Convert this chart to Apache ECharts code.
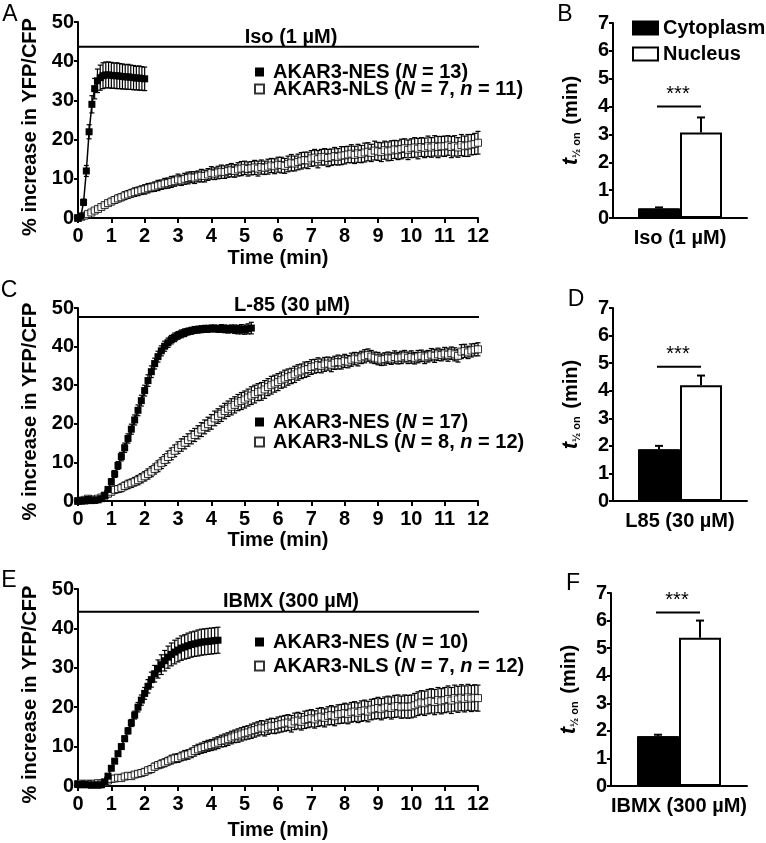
<!DOCTYPE html>
<html><head><meta charset="utf-8">
<script src="https://cdn.jsdelivr.net/npm/echarts@6/dist/echarts.min.js"></script>
<style>html,body{margin:0;padding:0;background:#fff}#c{width:766px;height:843px}</style>
</head><body><div id="c"></div>
<script>
// ---------------- DATA ----------------
const treatments = ['Iso (1 µM)', 'L-85 (30 µM)', 'IBMX (300 µM)'];
const barCategories = ['Iso (1 µM)', 'L85 (30 µM)', 'IBMX (300 µM)'];
const panelLetters = ['A', 'B', 'C', 'D', 'E', 'F'];
const treatmentLevel = [43.7, 47.7, 44.2];
const treatmentEnd = 12.1;
const nesNames = ['AKAR3-NES (N = 13)', 'AKAR3-NES (N = 17)', 'AKAR3-NES (N = 10)'];
const nlsNames = ['AKAR3-NLS (N = 7, n = 11)', 'AKAR3-NLS (N = 8, n = 12)', 'AKAR3-NLS (N = 7, n = 12)'];
const barNames = ['Cytoplasm', 'Nucleus'];
const timeTicks = [0, 1, 2, 3, 4, 5, 6, 7, 8, 9, 10, 11, 12];
const tHalfTicks = [0, 1, 2, 3, 4, 5, 6, 7];

// sampling intervals (min)
const stepNES = [1 / 12, 0.1, 0.1];
const stepNLS = [0.1, 0.1, 0.1];

// Panel A  (Iso)
const nesA = [0, 0.5, 4.0, 12.0, 22.0, 29.0, 33.0, 35.0, 35.8, 36.3, 36.5, 36.5, 36.4, 36.3, 36.3, 36.2, 36.1, 36.0, 36.0, 35.9, 35.8, 35.7, 35.7, 35.6, 35.5];
const nesAErr = [0, 0.3, 0.8, 1.4, 1.8, 2.2, 2.6, 3.0, 3.2, 3.3, 3.3, 3.3, 3.3, 3.2, 3.3, 3.2, 3.2, 3.1, 3.2, 3.1, 3.1, 3.0, 3.1, 3.0, 3.0];
const nlsA = [
  0, 0.3, 0.6, 1.0, 1.4, 1.9, 2.3, 2.8, 3.3, 3.8,
  4.2, 4.6, 5.0, 5.3, 5.7, 6.0, 6.3, 6.6, 6.8, 7.1,
  7.3, 7.6, 7.8, 8.0, 8.3, 8.5, 8.8, 8.9, 9.2, 9.4,
  9.8, 9.6, 10.0, 10.2, 10.4, 10.3, 10.6, 10.8, 10.7, 11.1,
  11.5, 11.3, 11.6, 11.8, 11.7, 12.0, 12.2, 12.0, 12.4, 12.6,
  12.8, 12.5, 12.7, 12.9, 12.6, 13.0, 12.8, 13.1, 13.4, 13.2,
  13.6, 13.5, 13.3, 13.8, 14.1, 13.9, 14.3, 14.6, 14.8, 14.7,
  15.2, 15.4, 15.0, 15.5, 15.6, 15.3, 15.5, 15.8, 15.6, 15.9,
  16.0, 16.2, 16.4, 16.1, 16.5, 16.3, 16.7, 16.9, 16.6, 17.2,
  17.0, 16.8, 17.3, 17.0, 17.2, 17.5, 17.3, 17.6, 17.8, 17.4,
  17.8, 18.0, 17.7, 18.1, 17.9, 18.3, 18.0, 18.4, 18.1, 18.3,
  18.3, 18.5, 18.1, 18.4, 18.0, 18.6, 18.3, 18.5, 18.7, 18.9,
  19.2];
const nlsAErr = [
  0.2, 0.3, 0.3, 0.4, 0.4, 0.5, 0.5, 0.6, 0.6, 0.7,
  0.8, 0.8, 0.9, 0.9, 1.0, 1.0, 1.0, 1.1, 1.1, 1.1,
  1.2, 1.2, 1.1, 1.2, 1.3, 1.2, 1.3, 1.3, 1.4, 1.3,
  1.4, 1.3, 1.4, 1.5, 1.4, 1.5, 1.4, 1.6, 1.5, 1.5,
  1.6, 1.5, 1.6, 1.7, 1.6, 1.6, 1.7, 1.6, 1.7, 1.8,
  1.7, 1.8, 1.7, 1.8, 1.9, 1.8, 1.7, 1.9, 1.8, 1.9,
  1.9, 2.0, 1.9, 2.0, 2.1, 1.9, 2.0, 2.1, 2.0, 2.1,
  2.0, 2.1, 2.2, 2.0, 2.1, 2.2, 2.1, 2.2, 2.1, 2.3,
  2.2, 2.1, 2.3, 2.2, 2.3, 2.2, 2.4, 2.3, 2.2, 2.4,
  2.3, 2.4, 2.3, 2.4, 2.5, 2.3, 2.4, 2.5, 2.4, 2.5,
  2.4, 2.5, 2.6, 2.4, 2.5, 2.6, 2.5, 2.6, 2.7, 2.5,
  2.6, 2.5, 2.7, 2.6, 2.5, 2.7, 2.6, 2.8, 2.6, 2.7,
  2.9];

// Panel C  (L-85)
const nesC = [
  0.0, 0.1, 0.0, 0.4, 0.1, 0.2, 0.3, 0.6, 1.4, 3.0,
  5.0, 7.0, 9.2, 11.5, 13.8, 16.2, 18.6, 21.0, 23.5, 26.0,
  28.6, 31.2, 33.5, 35.6, 37.4, 38.9, 40.1, 41.0, 41.8, 42.4,
  42.9, 43.3, 43.6, 43.9, 44.1, 44.3, 44.4, 44.5, 44.6, 44.6,
  44.7, 44.7, 44.6, 44.7, 44.6, 44.5, 44.6, 44.5, 44.4, 44.5,
  44.4, 44.6, 44.8];
const nesCErr = [
  0.2, 0.2, 0.2, 0.3, 0.2, 0.3, 0.3, 0.4, 0.5, 0.6,
  0.8, 0.9, 1.0, 1.1, 1.2, 1.2, 1.3, 1.3, 1.4, 1.4,
  1.4, 1.5, 1.5, 1.4, 1.4, 1.3, 1.3, 1.2, 1.1, 1.1,
  1.0, 1.0, 1.0, 0.9, 0.9, 0.9, 0.9, 0.9, 0.9, 0.9,
  0.9, 0.9, 0.9, 1.0, 1.0, 1.0, 1.0, 1.1, 1.1, 1.2,
  1.2, 1.3, 1.5];
const nlsC = [
  0.0, 0.1, 0.3, 0.6, 0.4, 0.3, 0.6, 0.9, 1.4, 1.9,
  2.4, 2.9, 3.1, 3.4, 3.9, 4.3, 4.6, 5.0, 5.4, 5.9,
  6.4, 7.0, 7.6, 8.3, 9.0, 9.8, 10.6, 11.4, 12.2, 13.0,
  13.8, 14.5, 15.1, 15.8, 16.5, 17.1, 17.8, 18.5, 19.2, 19.9,
  20.5, 21.4, 22.0, 22.6, 23.3, 23.9, 24.4, 24.9, 25.5, 25.9,
  26.3, 26.8, 27.3, 27.7, 28.2, 28.4, 28.9, 29.5, 30.0, 30.4,
  30.8, 31.3, 31.7, 32.1, 32.4, 32.8, 33.3, 33.6, 34.0, 34.2,
  34.7, 34.9, 35.2, 35.0, 35.4, 35.6, 35.3, 35.8, 36.0, 35.9,
  36.3, 36.1, 36.6, 36.9, 36.7, 37.2, 37.5, 37.8, 37.4, 37.1,
  36.9, 36.6, 36.8, 37.1, 36.9, 37.3, 37.0, 37.2, 37.5, 37.1,
  37.3, 37.0, 37.4, 37.6, 37.2, 37.5, 37.9, 37.6, 38.0, 37.8,
  38.2, 37.9, 38.3, 38.0, 37.6, 38.7, 38.9, 38.5, 39.0, 39.2,
  39.3];
const nlsCErr = [
  0.3, 0.3, 0.4, 0.5, 0.4, 0.4, 0.5, 0.6, 0.7, 0.8,
  0.8, 0.9, 0.9, 1.0, 1.0, 1.1, 1.1, 1.1, 1.2, 1.2,
  1.2, 1.3, 1.3, 1.3, 1.4, 1.4, 1.4, 1.5, 1.5, 1.5,
  1.5, 1.6, 1.6, 1.6, 1.7, 1.7, 1.7, 1.8, 1.8, 1.8,
  1.9, 1.9, 1.9, 2.0, 2.0, 2.0, 2.1, 2.1, 2.1, 2.2,
  2.2, 2.2, 2.3, 2.3, 2.2, 2.3, 2.3, 2.2, 2.3, 2.2,
  2.2, 2.1, 2.2, 2.1, 2.0, 2.1, 2.0, 1.9, 2.0, 1.9,
  1.9, 1.8, 1.9, 1.8, 1.8, 1.7, 1.8, 1.7, 1.8, 1.7,
  1.7, 1.6, 1.7, 1.6, 1.7, 1.6, 1.7, 1.6, 1.6, 1.5,
  1.6, 1.5, 1.6, 1.5, 1.5, 1.6, 1.5, 1.6, 1.5, 1.5,
  1.6, 1.5, 1.6, 1.5, 1.6, 1.5, 1.6, 1.7, 1.6, 1.5,
  1.6, 1.7, 1.6, 1.7, 1.6, 1.8, 1.7, 1.6, 1.7, 1.6,
  1.7];

// Panel E  (IBMX)
const nesE = [
  0.4, 0.3, 0.4, 0.3, 0.2, 0.3, 0.2, 0.3, 1.0, 2.5,
  4.5, 6.3, 8.2, 10.0, 12.0, 14.0, 16.0, 18.0, 20.0, 21.8,
  23.5, 25.3, 27.0, 28.5, 29.7, 30.8, 31.8, 32.7, 33.4, 34.0,
  34.5, 35.0, 35.3, 35.6, 35.9, 36.1, 36.3, 36.5, 36.6, 36.7,
  36.8, 36.9, 37.0];
const nesEErr = [
  0.3, 0.3, 0.3, 0.3, 0.3, 0.3, 0.3, 0.3, 0.4, 0.4,
  0.5, 0.5, 0.6, 0.6, 0.7, 0.8, 0.9, 1.0, 1.2, 1.3,
  1.5, 1.7, 1.9, 2.1, 2.3, 2.5, 2.6, 2.8, 2.9, 3.0,
  3.0, 3.1, 3.1, 3.2, 3.2, 3.2, 3.3, 3.3, 3.3, 3.3,
  3.3, 3.3, 3.3];
const nlsE = [
  0.5, 0.6, 0.5, 0.6, 0.5, 0.6, 0.7, 0.6, 0.9, 1.4,
  1.8, 1.9, 2.1, 2.0, 2.4, 2.6, 2.5, 2.9, 3.1, 3.3,
  3.6, 4.0, 4.3, 4.9, 5.3, 5.6, 5.9, 6.3, 6.7, 7.0,
  7.1, 7.5, 7.8, 8.0, 8.4, 8.9, 9.3, 9.6, 9.9, 10.2,
  10.4, 10.7, 11.0, 11.4, 11.6, 11.9, 12.3, 12.6, 12.8, 13.1,
  13.4, 13.6, 13.9, 14.2, 14.5, 14.8, 14.6, 15.0, 15.3, 15.2,
  15.5, 15.7, 15.9, 16.1, 15.8, 16.4, 16.6, 16.3, 16.8, 17.0,
  17.2, 16.9, 17.4, 17.6, 17.3, 17.8, 18.0, 17.7, 18.2, 18.3,
  18.5, 18.3, 18.7, 18.9, 18.6, 19.0, 19.2, 18.9, 19.4, 19.6,
  19.8, 19.5, 19.9, 20.1, 19.8, 20.2, 20.3, 20.0, 20.2, 20.1,
  20.2, 20.5, 20.9, 21.2, 21.0, 21.4, 21.6, 21.3, 21.8, 21.5,
  21.8, 22.1, 21.7, 22.3, 22.0, 22.4, 22.1, 22.5, 22.2, 22.4,
  22.3];
const nlsEErr = [
  0.3, 0.3, 0.3, 0.3, 0.3, 0.3, 0.3, 0.3, 0.4, 0.4,
  0.5, 0.5, 0.5, 0.6, 0.6, 0.6, 0.7, 0.7, 0.7, 0.8,
  0.8, 0.8, 0.9, 0.9, 0.9, 1.0, 1.0, 1.0, 1.1, 1.1,
  1.1, 1.1, 1.2, 1.2, 1.2, 1.3, 1.3, 1.3, 1.4, 1.4,
  1.4, 1.5, 1.5, 1.5, 1.6, 1.6, 1.6, 1.6, 1.7, 1.7,
  1.7, 1.7, 1.8, 1.8, 1.8, 1.8, 1.9, 1.9, 1.9, 1.9,
  2.0, 2.0, 2.0, 2.0, 2.1, 2.1, 2.1, 2.1, 2.2, 2.2,
  2.2, 2.2, 2.3, 2.3, 2.3, 2.3, 2.4, 2.4, 2.4, 2.4,
  2.5, 2.5, 2.5, 2.5, 2.5, 2.6, 2.6, 2.6, 2.6, 2.6,
  2.7, 2.7, 2.7, 2.7, 2.8, 2.8, 2.8, 2.8, 2.9, 2.9,
  2.9, 3.0, 3.0, 3.0, 3.1, 3.1, 3.1, 3.2, 3.2, 3.2,
  3.2, 3.3, 3.3, 3.3, 3.3, 3.3, 3.3, 3.3, 3.3, 3.3,
  3.3];

// Panels B, D, F  (t1/2 on, min)
const cytoMean = [0.35, 1.88, 1.81];
const cytoErr = [0.03, 0.12, 0.05];
const nucMean = [3.07, 4.20, 5.38];
const nucErr = [0.54, 0.35, 0.62];
const sigLevel = [4.0, 4.87, 6.29];
const sigText = ['***', '***', '***'];

// ---------------- LAYOUT / STYLE ----------------
const FONT = '"Liberation Sans", Arial, Helvetica, sans-serif';
const FS = 20;
const lineGrids = [
  { left: 78, top: 22, width: 400, height: 196 },
  { left: 78, top: 308, width: 400, height: 193 },
  { left: 78, top: 589, width: 400, height: 197 }
];
const barGrids = [
  { left: 613, top: 23, width: 134, height: 195 },
  { left: 613, top: 308, width: 134, height: 193 },
  { left: 611, top: 593, width: 136, height: 193 }
];
const BAR_W = 42;
const timeNameGap = [30, 29, 34];
const legendPos = [
  { left: 254, top: 62, gap: -3 },
  { left: 254, top: 412, gap: 0 },
  { left: 254, top: 632, gap: 4 }
];

const baseText = { fontFamily: FONT, fontWeight: 'bold', fontSize: FS, color: '#000' };
const axisLine = { show: true, lineStyle: { color: '#000', width: 2 } };

function errRender(capHalf, lw) {
  return function (params, api) {
    const x = api.value(0), y = api.value(1), e = api.value(2);
    const lo = api.coord([x, y - e]), hi = api.coord([x, y + e]);
    const st = { stroke: '#000', lineWidth: lw };
    return {
      type: 'group', children: [
        { type: 'line', shape: { x1: lo[0], y1: lo[1], x2: hi[0], y2: hi[1] }, style: st },
        { type: 'line', shape: { x1: hi[0] - capHalf, y1: hi[1], x2: hi[0] + capHalf, y2: hi[1] }, style: st },
        { type: 'line', shape: { x1: lo[0] - capHalf, y1: lo[1], x2: lo[0] + capHalf, y2: lo[1] }, style: st }
      ]
    };
  };
}

const nesData = [nesA, nesC, nesE];
const nesErrs = [nesAErr, nesCErr, nesEErr];
const nlsData = [nlsA, nlsC, nlsE];
const nlsErrs = [nlsAErr, nlsCErr, nlsEErr];

const grid = [], xAxis = [], yAxis = [], series = [], legend = [], graphic = [];

function legendFmt(name) {
  return name.replace('(N =', '({i|N} =').replace(', n =', ', {i|n} =');
}

for (let p = 0; p < 3; p++) {
  // --- time-course panel ---
  const gi = grid.length;
  grid.push(lineGrids[p]);
  xAxis.push({
    type: 'value', gridIndex: gi, min: 0, max: 12, interval: 1,
    name: 'Time (min)', nameLocation: 'middle', nameGap: timeNameGap[p], nameTextStyle: baseText,
    axisLine: axisLine, axisTick: { show: true, length: 5, inside: false, lineStyle: { width: 2, color: '#000' } },
    axisLabel: Object.assign({ margin: 8, formatter: v => timeTicks.includes(v) ? String(v) : '' }, baseText),
    splitLine: { show: false }
  });
  yAxis.push({
    type: 'value', gridIndex: gi, min: 0, max: 50, interval: 10,
    name: '% increase in YFP/CFP', nameLocation: 'middle', nameGap: 37,
    nameTextStyle: Object.assign({ padding: [0, 14, 0, 0] }, baseText),
    axisLine: axisLine, axisTick: { show: true, length: 4, lineStyle: { width: 2, color: '#000' } },
    axisLabel: Object.assign({ margin: 4 }, baseText),
    splitLine: { show: false }
  });
  // treatment bar
  series.push({
    type: 'line', xAxisIndex: gi, yAxisIndex: gi, clip: false, symbol: 'none', silent: true,
    lineStyle: { color: '#000', width: 2 },
    data: [[0, treatmentLevel[p]], [treatmentEnd, treatmentLevel[p]]], z: 1
  });
  // NLS error bars + markers
  series.push({
    type: 'custom', xAxisIndex: gi, yAxisIndex: gi, renderItem: errRender(2.5, 1.2), z: 2,
    encode: { x: 0, y: 1 },
    data: nlsData[p].map((v, i) => [i * stepNLS[p], v, nlsErrs[p][i]])
  });
  series.push({
    type: 'scatter', name: nlsNames[p], xAxisIndex: gi, yAxisIndex: gi, symbol: 'rect', symbolSize: 7, z: 3,
    itemStyle: { color: '#fff', borderColor: '#000', borderWidth: 1 },
    data: nlsData[p].map((v, i) => [i * stepNLS[p], v])
  });
  // NES error bars + line + markers
  series.push({
    type: 'custom', xAxisIndex: gi, yAxisIndex: gi, renderItem: errRender(2.5, 1.2), z: 4,
    encode: { x: 0, y: 1 },
    data: nesData[p].map((v, i) => [i * stepNES[p], v, nesErrs[p][i]])
  });
  series.push({
    type: 'line', name: nesNames[p], xAxisIndex: gi, yAxisIndex: gi, symbol: 'rect', symbolSize: 7, z: 5,
    showAllSymbol: true, itemStyle: { color: '#000' }, lineStyle: { color: '#000', width: 1.5 },
    data: nesData[p].map((v, i) => [i * stepNES[p], v])
  });
  legend.push({
    data: [{ name: nesNames[p], icon: 'rect' }, { name: nlsNames[p], icon: 'rect' }],
    orient: 'vertical', left: legendPos[p].left, top: legendPos[p].top, itemGap: legendPos[p].gap, padding: 0,
    itemWidth: 9, itemHeight: 9, selectedMode: false, formatter: legendFmt,
    textStyle: Object.assign({ lineHeight: 20, padding: [0, 0, 0, 4],
      rich: { i: { fontFamily: FONT, fontWeight: 'bold', fontStyle: 'italic', fontSize: FS, color: '#000', lineHeight: 20 } } }, baseText)
  });

  // --- t1/2 bar panel ---
  const bi = grid.length;
  grid.push(barGrids[p]);
  xAxis.push({
    type: 'category', gridIndex: bi, data: [barCategories[p]],
    axisLine: axisLine, axisTick: { show: false },
    axisLabel: Object.assign({ margin: 10 }, baseText)
  });
  yAxis.push({
    type: 'value', gridIndex: bi, min: 0, max: 7, interval: 1,
    name: '{t|t}{s|½ on} (min)', nameLocation: 'middle', nameGap: 31,
    nameTextStyle: Object.assign({ rich: {
      t: { fontFamily: FONT, fontWeight: 'bold', fontStyle: 'italic', fontSize: 22, color: '#000' },
      s: { fontFamily: FONT, fontWeight: 'bold', fontSize: 11, color: '#000', verticalAlign: 'bottom', padding: [8, 2, 0, 0] }
    } }, baseText),
    axisLine: axisLine, axisTick: { show: true, length: 4, lineStyle: { width: 2, color: '#000' } },
    axisLabel: Object.assign({ margin: 4 }, baseText),
    splitLine: { show: false }
  });
  series.push({
    type: 'bar', name: barNames[0], xAxisIndex: bi, yAxisIndex: bi, barWidth: BAR_W, barGap: '0%',
    itemStyle: { color: '#000', borderColor: '#000', borderWidth: 1 }, data: [cytoMean[p]], z: 2
  });
  series.push({
    type: 'bar', name: barNames[1], xAxisIndex: bi, yAxisIndex: bi, barWidth: BAR_W, barGap: '0%',
    itemStyle: { color: '#fff', borderColor: '#000', borderWidth: 2 }, data: [nucMean[p]], z: 2
  });
  // error bars (upper only) + significance marker
  series.push({
    type: 'custom', xAxisIndex: bi, yAxisIndex: bi, z: 3,
    data: [[0, cytoMean[p], cytoErr[p], nucMean[p], nucErr[p], sigLevel[p]]],
    renderItem: function (params, api) {
      const c0 = api.coord([0, api.value(1)]);
      const cx = c0[0];
      const xb = cx - BAR_W / 2, xw = cx + BAR_W / 2;
      const yb = c0[1], ybE = api.coord([0, api.value(1) + api.value(2)])[1];
      const yw = api.coord([0, api.value(3)])[1], ywE = api.coord([0, api.value(3) + api.value(4)])[1];
      const ys = api.coord([0, api.value(5)])[1];
      const st = { stroke: '#000', lineWidth: 2 };
      return {
        type: 'group', children: [
          { type: 'line', shape: { x1: xb, y1: yb, x2: xb, y2: ybE }, style: st },
          { type: 'line', shape: { x1: xb - 4, y1: ybE, x2: xb + 4, y2: ybE }, style: st },
          { type: 'line', shape: { x1: xw, y1: yw, x2: xw, y2: ywE }, style: st },
          { type: 'line', shape: { x1: xw - 4, y1: ywE, x2: xw + 4, y2: ywE }, style: st },
          { type: 'line', shape: { x1: xb - 2, y1: ys, x2: xw, y2: ys }, style: st },
          { type: 'text', x: (xb + xw) / 2 - 2, y: ys - 2,
            style: { text: sigText[p], font: 'normal 20px ' + FONT, fill: '#000', align: 'center', verticalAlign: 'bottom' } }
        ]
      };
    }
  });
}

legend.push({
  data: [{ name: barNames[0], icon: 'rect' }, { name: barNames[1], icon: 'rect' }],
  orient: 'vertical', left: 632, top: 18, itemGap: 6, itemWidth: 25, itemHeight: 13, selectedMode: false, padding: 0,
  textStyle: Object.assign({ lineHeight: 20 }, baseText)
});

// panel letters and treatment labels
const letterPos = [[10, 15], [565, 15], [9, 291], [576, 300], [9, 581], [573, 584]];
panelLetters.forEach((L, i) => graphic.push({
  type: 'text', x: letterPos[i][0], y: letterPos[i][1],
  style: { text: L, font: 'normal 23px ' + FONT, fill: '#000', align: 'center', verticalAlign: 'middle' }
}));
const treatPos = [[291, 37], [292, 305], [291, 601]];
treatments.forEach((t, i) => graphic.push({
  type: 'text', x: treatPos[i][0], y: treatPos[i][1],
  style: { text: t, font: 'bold 20px ' + FONT, fill: '#000', align: 'center', verticalAlign: 'middle' }
}));

const chart = echarts.init(document.getElementById('c'), null, { renderer: 'canvas' });
chart.setOption({
  animation: false, backgroundColor: '#fff',
  grid, xAxis, yAxis, series, legend, graphic
});
</script></body></html>
